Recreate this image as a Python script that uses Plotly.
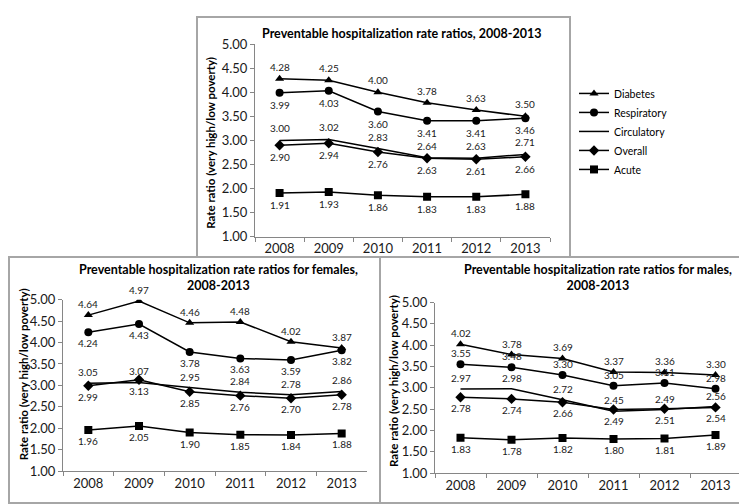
import plotly.graph_objects as go

years = ["2008", "2009", "2010", "2011", "2012", "2013"]
series_names = ["Diabetes", "Respiratory", "Circulatory", "Overall", "Acute"]

# All population
all_diabetes = [4.28, 4.25, 4.00, 3.78, 3.63, 3.50]
all_respiratory = [3.99, 4.03, 3.60, 3.41, 3.41, 3.46]
all_circulatory = [3.00, 3.02, 2.83, 2.64, 2.63, 2.71]
all_overall = [2.90, 2.94, 2.76, 2.63, 2.61, 2.66]
all_acute = [1.91, 1.93, 1.86, 1.83, 1.83, 1.88]

# Females
fem_diabetes = [4.64, 4.97, 4.46, 4.48, 4.02, 3.87]
fem_respiratory = [4.24, 4.43, 3.78, 3.63, 3.59, 3.82]
fem_circulatory = [3.05, 3.07, 2.95, 2.84, 2.78, 2.86]
fem_overall = [2.99, 3.13, 2.85, 2.76, 2.70, 2.78]
fem_acute = [1.96, 2.05, 1.90, 1.85, 1.84, 1.88]

# Males
mal_diabetes = [4.02, 3.78, 3.69, 3.37, 3.36, 3.30]
mal_respiratory = [3.55, 3.48, 3.30, 3.05, 3.11, 2.98]
mal_circulatory = [2.97, 2.98, 2.72, 2.45, 2.49, 2.56]
mal_overall = [2.78, 2.74, 2.66, 2.49, 2.51, 2.54]
mal_acute = [1.83, 1.78, 1.82, 1.80, 1.81, 1.89]

title_all = "Preventable hospitalization rate ratios, 2008-2013"
title_fem = "Preventable hospitalization rate ratios for females,<br>2008-2013"
title_mal = "Preventable hospitalization rate ratios for males,<br>2008-2013"
ytitle = "Rate ratio (very high/low poverty)"

W, H = 747, 504
FONT = "Lato, Carlito, Calibri, sans-serif"
symbols = ["triangle-up", "circle", None, "diamond", "square"]
msizes = [8, 8, 0, 8, 8]

panels = [
    dict(data=[all_diabetes, all_respiratory, all_circulatory, all_overall, all_acute],
         pos=["up", "down", "up", "down", "down"], xa="x", ya="y", legend=True, off=12),
    dict(data=[fem_diabetes, fem_respiratory, fem_circulatory, fem_overall, fem_acute],
         pos=["up", "down", "up", "down", "down"], xa="x2", ya="y2", legend=False, off=11),
    dict(data=[mal_diabetes, mal_respiratory, mal_circulatory, mal_overall, mal_acute],
         pos=["up", "up", "up", "down", "down"], xa="x3", ya="y3", legend=False, off=11),
]

fig = go.Figure()
annotations = []
for p in panels:
    for name, vals, sym, ms, pos in zip(series_names, p["data"], symbols, msizes, p["pos"]):
        mode = "lines+markers" if sym else "lines"
        marker = dict(symbol=sym, size=ms, color="black") if sym else None
        fig.add_trace(go.Scatter(
            x=years, y=vals, name=name, mode=mode,
            line=dict(color="black", width=1.5),
            marker=marker, xaxis=p["xa"], yaxis=p["ya"],
            showlegend=p["legend"], hoverinfo="skip"))
        for i, v in enumerate(vals):
            annotations.append(dict(
                x=i, y=v, xref=p["xa"], yref=p["ya"], text=f"{v:.2f}",
                showarrow=False, yshift=p["off"] if pos == "up" else -p["off"],
                font=dict(size=10, color="#1a1a1a", family=FONT)))

def px(x):
    return x / W

def py(y):
    return 1 - y / H

axis_common = dict(showline=True, linecolor="#868686", linewidth=1, ticks="outside",
                   ticklen=4, tickcolor="#868686", showgrid=False, zeroline=False,
                   tickfont=dict(size=13, color="#1a1a1a", family=FONT))

xdom = {"x": [px(247), px(542)], "x2": [px(55), px(359)], "x3": [px(427), px(733)]}
ydom = {"y": [py(228), py(29)], "y2": [py(470), py(293)], "y3": [py(472), py(296)]}

layout_axes = {}
for i, (xa, ya) in enumerate([("x", "y"), ("x2", "y2"), ("x3", "y3")]):
    xk = "xaxis" if i == 0 else f"xaxis{i+1}"
    yk = "yaxis" if i == 0 else f"yaxis{i+1}"
    layout_axes[xk] = dict(axis_common, domain=xdom[xa], anchor=ya, type="category",
                           tickson="boundaries", range=[-0.5, 5.5])
    layout_axes[yk] = dict(axis_common, domain=ydom[ya], anchor=xa, range=[1, 5],
                           dtick=0.5, tick0=1, tickformat=".2f")

# Titles
for txt, cx, cy in [(title_all, 394, 18), (title_fem, 210, 270), (title_mal, 590, 270)]:
    annotations.append(dict(x=px(cx), y=py(cy), xref="paper", yref="paper",
                            text=f"<b>{txt}</b>", showarrow=False, xanchor="center",
                            yanchor="middle",
                            font=dict(size=12.5, color="#000", family=FONT)))
# Y titles
for cx, cy in [(203, 131), (15, 370), (385, 377)]:
    annotations.append(dict(x=px(cx), y=py(cy), xref="paper", yref="paper",
                            text=f"<b>{ytitle}</b>", showarrow=False, textangle=-90,
                            xanchor="center", yanchor="middle",
                            font=dict(size=11.5, color="#000", family=FONT)))

border = dict(color="#a6a6a6", width=2)
shapes = [
    dict(type="rect", xref="paper", yref="paper", x0=px(189), x1=px(562), y0=py(249), y1=py(1), line=border),
    dict(type="rect", xref="paper", yref="paper", x0=px(1), x1=px(746), y0=py(503), y1=py(249), line=border),
    dict(type="line", xref="paper", yref="paper", x0=px(372), x1=px(372), y0=py(503), y1=py(249), line=border),
]

fig.update_layout(
    width=W, height=H, margin=dict(l=0, r=0, t=0, b=0),
    paper_bgcolor="white", plot_bgcolor="white",
    font=dict(family=FONT, color="#000"),
    annotations=annotations, shapes=shapes,
    legend=dict(x=px(566), y=py(65), xanchor="left", yanchor="top",
                font=dict(size=10.5, family=FONT, color="#000"),
                itemwidth=30, bgcolor="rgba(0,0,0,0)", tracegroupgap=0),
    **layout_axes,
)

fig.write_html("out.html")
